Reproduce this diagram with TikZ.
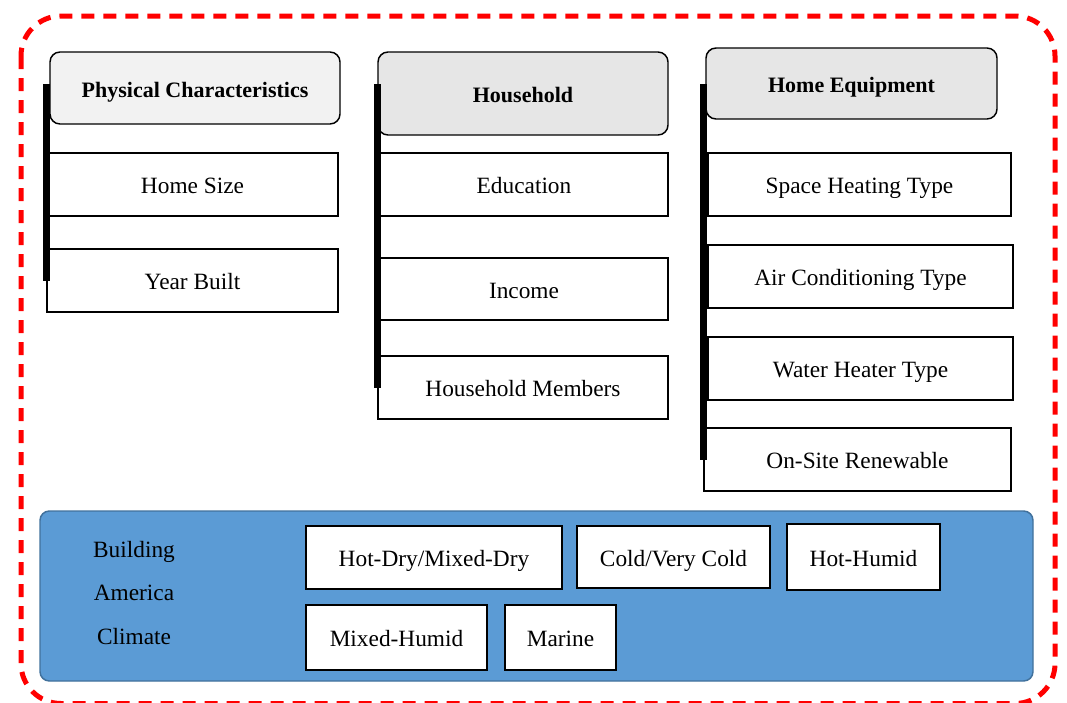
\documentclass[tikz,border=0pt]{standalone}
\usepackage{fontspec}
\setmainfont{Liberation Serif}
\definecolor{panelblue}{HTML}{5B9BD5}
\definecolor{panelline}{HTML}{41719C}
\definecolor{headlight}{HTML}{F2F2F2}
\definecolor{headgray}{HTML}{E6E6E6}
\newcommand{\pw}{0.75pt}

\begin{document}
\begin{tikzpicture}[x=0.75pt,y=-0.75pt,
  every node/.style={font=\fontsize{17.5}{20}\selectfont, inner sep=0pt, text height=14pt, text depth=0pt},
  head/.style={draw, line width=1.1pt, rounded corners=7.5pt, fill=headgray,
    font=\fontsize{16.5}{20}\selectfont\bfseries},
  box/.style={draw, line width=1.1pt, fill=white, minimum height=63*\pw},
  zone/.style={draw, line width=1.1pt, fill=white},
  bar/.style={line width=5.25pt}]
\useasboundingbox (0,0) rectangle (1067,703);
\draw [red, line width=3.75pt, dash pattern=on 9.75pt off 6.75pt, rounded corners=30pt] (21,16) rectangle (1055,703.5);

\node [head, fill=headlight, minimum width=290*\pw, minimum height=72*\pw] (pc) at (195,88) {Physical Characteristics};
\node [box, minimum width=291*\pw] (hs) at (192.5,184.5) {Home Size};
\node [box, minimum width=291*\pw] (yb) at (192.5,280.5) {Year Built};

\node [head, minimum width=290*\pw, minimum height=83*\pw] (hh) at (523,93.5) {Household};
\node [box, minimum width=288*\pw] (ed) at (524,184.5) {Education};
\node [box, minimum width=288*\pw, minimum height=62*\pw] (inc) at (524,289) {Income};
\node [box, minimum width=290*\pw] (hm) at (523,387.5) {Household Members};

\node [head, minimum width=291*\pw, minimum height=71*\pw] (he) at (851.5,83.5) {Home Equipment};
\node [box, minimum width=303*\pw] (sh) at (859.5,184.5) {Space Heating Type};
\node [box, minimum width=305*\pw] (ac) at (860.5,276.5) {Air Conditioning Type};
\node [box, minimum width=305*\pw] (wh) at (860.5,368.5) {Water Heater Type};
\node [box, minimum width=307*\pw] (os) at (857.5,459.5) {On-Site Renewable};

\draw [bar] (yb.west |- 0,84) -- (yb.west);
\draw [bar] (hm.west |- 0,84) -- (hm.west);
\draw [bar] (os.west |- 0,84) -- (os.west);

\draw [panelline, fill=panelblue, line width=1.1pt, rounded corners=7pt] (40,511) rectangle (1033,681);
\node (b1) at (134,548) {Building};
\node (b2) at (134,591) {America};
\node (b3) at (134,635) {Climate};

\node [zone, minimum width=256*\pw, minimum height=63*\pw] (hd) at (434,557.5) {Hot-Dry/Mixed-Dry};
\node [zone, minimum width=193*\pw, minimum height=62*\pw] (cv) at (673.5,557) {Cold/Very Cold};
\node [zone, minimum width=153*\pw, minimum height=66*\pw] (hu) at (863.5,557) {Hot-Humid};
\node [zone, minimum width=181*\pw, minimum height=65*\pw] (mh) at (396.5,637.5) {Mixed-Humid};
\node [zone, minimum width=111*\pw, minimum height=65*\pw] (ma) at (560.5,637.5) {Marine};
\end{tikzpicture}
\end{document}
